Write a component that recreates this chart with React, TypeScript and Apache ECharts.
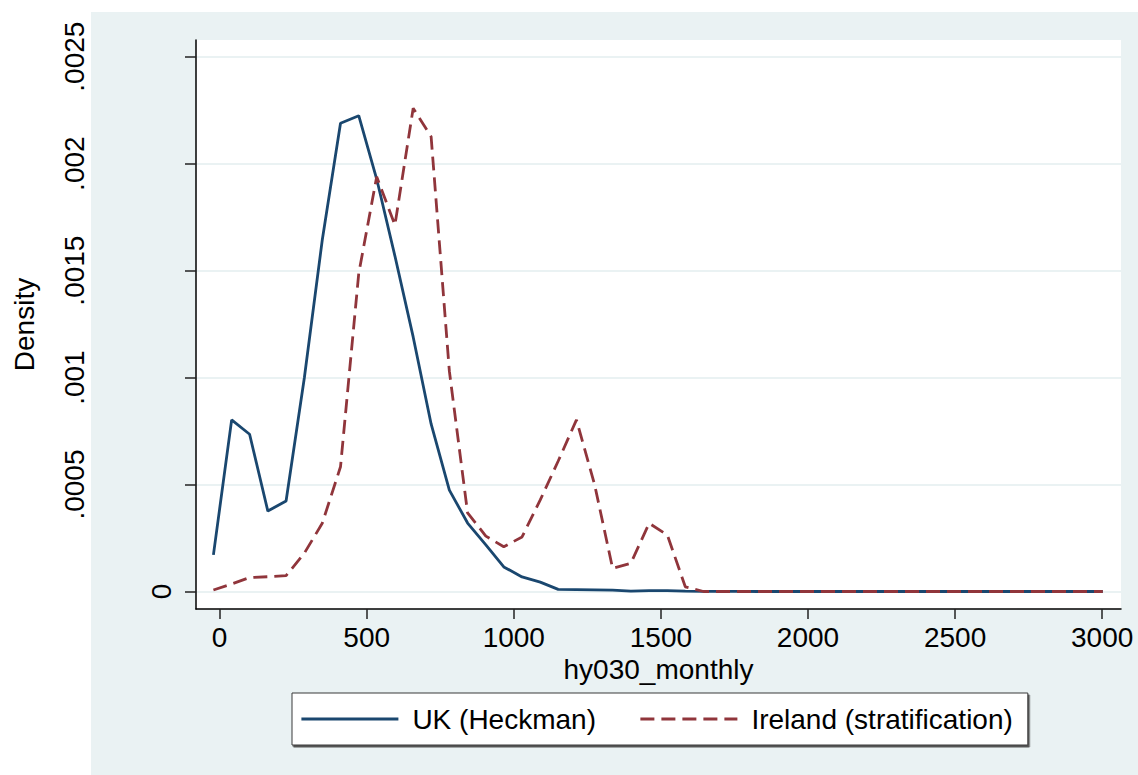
import React, { useEffect, useRef } from "react";
import * as echarts from "echarts";

// Evaluation points of the kernel density estimates (monthly amount)
const gridPoints = [
  -21, 41, 102, 164, 226, 288, 349, 411, 473, 534,
  596, 658, 719, 781, 843, 905, 966, 1028, 1090, 1151,
  1213, 1275, 1336, 1398, 1460, 1522, 1583, 1645, 1707, 1768,
  1830, 1892, 1953, 2015, 2077, 2139, 2200, 2262, 2324, 2385,
  2447, 2509, 2570, 2632, 2694, 2756, 2817, 2879, 2941, 3002,
];

// Density, UK (Heckman)
const ukDensity = [
  0.000171, 0.000802, 0.000735, 0.000376, 0.000423, 0.000998, 0.001643, 0.002189, 0.002224, 0.001928,
  0.001568, 0.00119, 0.000783, 0.000474, 0.00032, 0.000218, 0.000115, 0.000068, 0.000044, 0.00001,
  0.000009, 0.000008, 0.000006, 0.000002, 0.000004, 0.000004, 0.000002, 0.000001, 0.000001, 0.000001,
  0, 0, 0, 0, 0, 0, 0, 0, 0, 0,
  0, 0, 0, 0, 0, 0, 0, 0, 0, 0,
];

// Density, Ireland (stratification)
const ieDensity = [
  0.000007, 0.000035, 0.000065, 0.000069, 0.000074, 0.000179, 0.000319, 0.000583, 0.001487, 0.001939,
  0.001713, 0.002259, 0.002126, 0.00103, 0.000367, 0.000259, 0.000209, 0.000255, 0.000428, 0.00061,
  0.000802, 0.000498, 0.000108, 0.000132, 0.000319, 0.000264, 0.000022, 0, 0, 0,
  0, 0, 0, 0, 0, 0, 0, 0, 0, 0,
  0, 0, 0, 0, 0, 0, 0, 0, 0, 0,
];

const xTicks = [0, 500, 1000, 1500, 2000, 2500, 3000];
const yTicks = [0, 0.0005, 0.001, 0.0015, 0.002, 0.0025];
const seriesNames = ["UK (Heckman)", "Ireland (stratification)"];

const FONT = "'Liberation Sans', Arial, Helvetica, sans-serif";
const FS = 28;
const REGION = "#EAF2F3";
const NAVY = "#1A476F";
const MAROON = "#90353B";
const LINE_W = 2.8;

const fmtY = (v: number) => (v === 0 ? "0" : String(v).replace(/^0/, ""));
const fmtX = (v: number) => String(v);

export default function App() {
  const ref = useRef<HTMLDivElement>(null);

  useEffect(() => {
    if (!ref.current) return;
    const chart = echarts.init(ref.current, undefined, { renderer: "svg" });

    const uk = gridPoints.map((x, i) => [x, ukDensity[i]]);
    const ie = gridPoints.map((x, i) => [x, ieDensity[i]]);

    const yMin = -0.0000818;
    const yMax = 0.002578;

    chart.setOption({
      animation: false,
      backgroundColor: "#ffffff",
      textStyle: { fontFamily: FONT },
      graphic: [
        {
          type: "rect",
          z: -100,
          silent: true,
          shape: { x: 91, y: 12, width: 1047, height: 763 },
          style: { fill: REGION },
        },
      ],
      grid: {
        left: 196,
        top: 40,
        width: 925,
        height: 569,
        show: true,
        backgroundColor: "#ffffff",
        borderWidth: 0,
      },
      legend: {
        data: seriesNames,
        left: 292,
        top: 693,
        orient: "horizontal",
        itemWidth: 97,
        itemHeight: 14,
        itemGap: 43,
        padding: [6, 15, 6, 8],
        backgroundColor: "#ffffff",
        borderColor: "#3a3a3a",
        borderWidth: 1,
        shadowColor: "#555555",
        shadowOffsetX: 1.5,
        shadowOffsetY: 2,
        shadowBlur: 0,
        itemStyle: { opacity: 0 },
        lineStyle: { width: LINE_W },
        textStyle: {
          fontFamily: FONT,
          fontSize: FS,
          color: "#000000",
          lineHeight: 40,
          padding: [0, 0, 0, 9],
        },
      },
      xAxis: {
        type: "value",
        min: -80.2,
        max: 3064,
        name: "hy030_monthly",
        nameLocation: "middle",
        nameGap: 32,
        nameTextStyle: { fontFamily: FONT, fontSize: FS, color: "#000000" },
        axisLine: { show: true, onZero: false, lineStyle: { color: "#000000", width: 1.5 } },
        axisTick: {
          show: true,
          length: 10,
          customValues: xTicks,
          lineStyle: { color: "#222222", width: 1.5 },
        },
        axisLabel: {
          customValues: xTicks,
          margin: 14,
          formatter: fmtX,
          fontFamily: FONT,
          fontSize: FS,
          color: "#000000",
        },
        splitLine: { show: false },
      },
      yAxis: [
        {
          type: "value",
          min: yMin,
          max: yMax,
          position: "left",
          name: "Density",
          nameLocation: "middle",
          nameGap: 158,
          nameTextStyle: { fontFamily: FONT, fontSize: FS, color: "#000000" },
          axisLine: { show: true, onZero: false, lineStyle: { color: "#000000", width: 1.5 } },
          axisTick: {
            show: true,
            length: 11,
            customValues: yTicks,
            lineStyle: { color: "#222222", width: 1.5 },
          },
          axisLabel: {
            customValues: yTicks.slice(1),
            rotate: 90,
            margin: 108,
            formatter: fmtY,
            fontFamily: FONT,
            fontSize: FS,
            color: "#000000",
          },
          splitLine: { show: true, lineStyle: { color: REGION, width: 2 } },
        },
        {
          type: "value",
          min: yMin,
          max: yMax,
          position: "left",
          axisLine: { show: false },
          axisTick: { show: false },
          splitLine: { show: false },
          axisLabel: {
            customValues: [0],
            rotate: 90,
            margin: 21,
            formatter: fmtY,
            fontFamily: FONT,
            fontSize: FS,
            color: "#000000",
          },
        },
      ],
      series: [
        {
          name: seriesNames[0],
          type: "line",
          data: uk,
          symbol: "none",
          lineStyle: { color: NAVY, width: LINE_W },
          itemStyle: { color: NAVY },
        },
        {
          name: seriesNames[1],
          type: "line",
          data: ie,
          symbol: "none",
          lineStyle: { color: MAROON, width: LINE_W, type: [14, 7] },
          itemStyle: { color: MAROON },
        },
      ],
    });

    return () => chart.dispose();
  }, []);

  return (
    <div
      ref={ref}
      style={{ position: "fixed", left: 0, top: 0, width: 1138, height: 775 }}
    />
  );
}
